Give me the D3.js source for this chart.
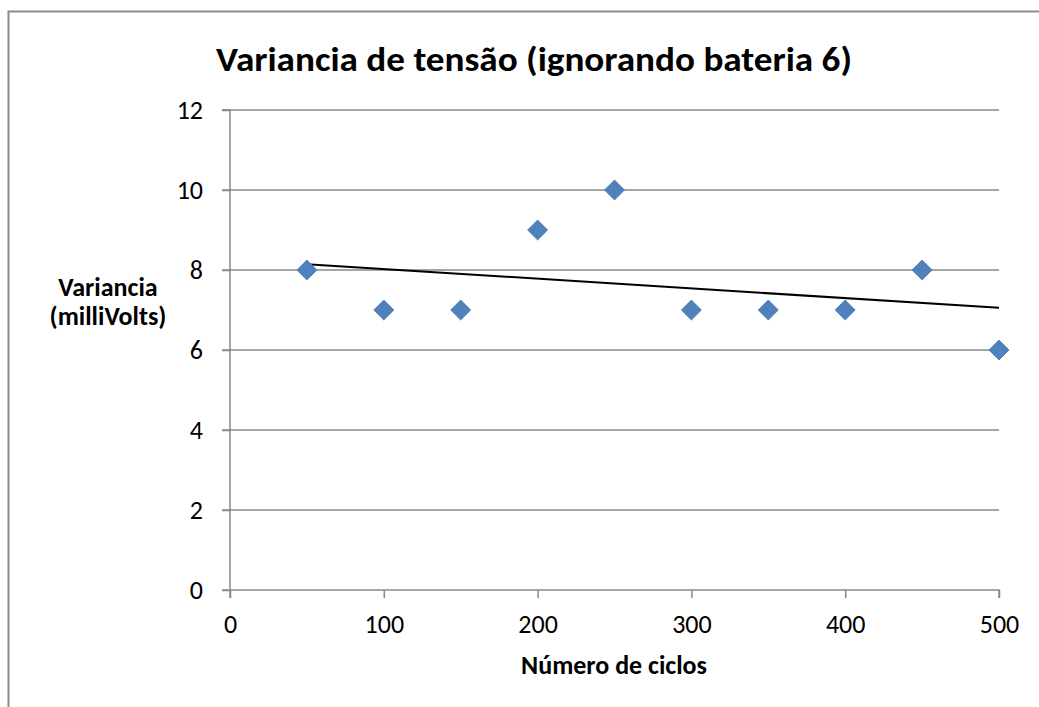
<!DOCTYPE html>
<html lang="pt">
<head>
    <meta charset="UTF-8">
    <title>Variancia de tensão</title>
    <style>
        body { margin: 0; background: #fff; }
        text { font-family: Calibri, Carlito, Lato, sans-serif; }
    </style>
</head>
<body>
    <script src="https://d3js.org/d3.v7.min.js"></script>
    <script>
        // dados
        const ciclos = [50, 100, 150, 200, 250, 300, 350, 400, 450, 500];
        const variancia = [8, 7, 7, 9, 10, 7, 7, 7, 8, 6];
        const xTicks = [0, 100, 200, 300, 400, 500];
        const yTicks = [0, 2, 4, 6, 8, 10, 12];

        const width = 1039;
        const height = 707;

        const svg = d3.select("body")
            .append("svg")
            .attr("width", width)
            .attr("height", height);

        // moldura (só esquerda e topo aparecem)
        svg.append("path")
            .attr("d", "M8.5,707 V11.5 H1039")
            .attr("fill", "none")
            .attr("stroke", "#8c8c8c")
            .attr("stroke-width", 2);

        const x = d3.scaleLinear().domain([0, 500]).range([230, 999]);
        const y = d3.scaleLinear().domain([0, 12]).range([590, 110]);

        // linhas de grade horizontais
        svg.append("g")
            .selectAll("line")
            .data(yTicks.filter(d => d > 0))
            .join("line")
            .attr("x1", x(0) - 8)
            .attr("x2", x(500))
            .attr("y1", d => y(d))
            .attr("y2", d => y(d))
            .attr("stroke", "#898989")
            .attr("stroke-width", 1.5);

        // eixo y
        const yAxis = svg.append("g")
            .attr("transform", "translate(" + x(0) + ",0)")
            .call(d3.axisLeft(y).tickValues(yTicks).tickSize(8).tickPadding(19));
        yAxis.selectAll("line, path").attr("stroke", "#898989").attr("stroke-width", 1.5);
        yAxis.select(".domain").attr("d", "M-8," + y(0) + "H0V" + y(12) + "H-8");
        yAxis.selectAll("text").attr("font-size", 26).attr("fill", "#000")
            .attr("font-family", "Calibri, Carlito, Lato, sans-serif");

        // eixo x
        const xAxis = svg.append("g")
            .attr("transform", "translate(0," + y(0) + ")")
            .call(d3.axisBottom(x).tickValues(xTicks).tickSize(8).tickPadding(17));
        xAxis.selectAll("line, path").attr("stroke", "#898989").attr("stroke-width", 1.5);
        xAxis.select(".domain").attr("d", "M" + x(0) + ",8V0H" + x(500) + "V8");
        xAxis.selectAll("text").attr("font-size", 26).attr("fill", "#000")
            .attr("font-family", "Calibri, Carlito, Lato, sans-serif");

        // linha de tendência (regressão linear)
        const mx = d3.mean(ciclos), my = d3.mean(variancia);
        const slope = d3.sum(ciclos, (c, i) => (c - mx) * (variancia[i] - my)) /
                      d3.sum(ciclos, c => (c - mx) * (c - mx));
        const trend = c => my + slope * (c - mx);
        const xExt = d3.extent(ciclos);
        svg.append("path")
            .datum(xExt)
            .attr("d", d3.line().x(c => x(c)).y(c => y(trend(c))))
            .attr("stroke", "#000")
            .attr("stroke-width", 2)
            .attr("fill", "none");

        // pontos (losangos)
        svg.append("g")
            .selectAll("path")
            .data(ciclos.map((c, i) => [c, variancia[i]]))
            .join("path")
            .attr("d", d3.symbol(d3.symbolSquare, 200))
            .attr("transform", d => "translate(" + x(d[0]) + "," + y(d[1]) + ") rotate(45)")
            .attr("fill", "#4f81bd")
            .attr("stroke", "#4a7ab3")
            .attr("stroke-width", 0.8);

        // título
        svg.append("text")
            .attr("x", 534)
            .attr("y", 71)
            .attr("text-anchor", "middle")
            .attr("font-size", 35)
            .attr("font-weight", "bold")
            .attr("textLength", 636)
            .attr("lengthAdjust", "spacingAndGlyphs")
            .text("Variancia de tensão (ignorando bateria 6)");

        // rótulo eixo y
        const yl = svg.append("text")
            .attr("text-anchor", "middle")
            .attr("font-size", 26)
            .attr("font-weight", "bold");
        yl.append("tspan").attr("x", 108).attr("y", 296).text("Variancia");
        yl.append("tspan").attr("x", 108).attr("y", 325).text("(milliVolts)");

        // rótulo eixo x
        svg.append("text")
            .attr("x", 614)
            .attr("y", 674)
            .attr("text-anchor", "middle")
            .attr("font-size", 26)
            .attr("font-weight", "bold")
            .text("Número de ciclos");
    </script>
</body>
</html>
